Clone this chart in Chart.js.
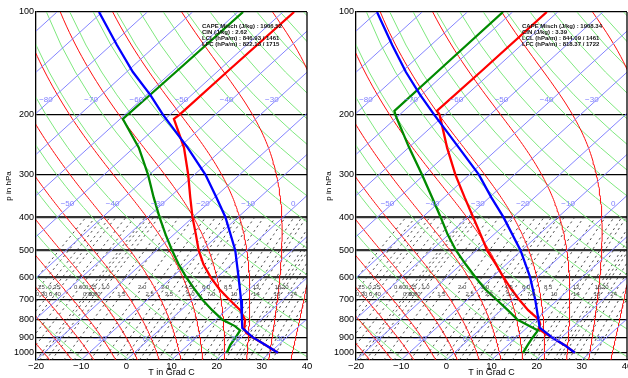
<!DOCTYPE html>
<html>
<head>
<meta charset="utf-8">
<script src="https://cdn.jsdelivr.net/npm/chart.js@4.4.1/dist/chart.umd.min.js"></script>
<style>
  html, body { margin: 0; padding: 0; background: #fff; }
  body { width: 628px; height: 378px; overflow: hidden; position: relative; }
  .panel { position: absolute; top: 0; width: 320px; height: 378px; }
</style>
</head>
<body>
<div class="panel" style="left:0"><canvas id="skewLinks" width="320" height="378"></canvas></div>
<div class="panel" style="left:320px"><canvas id="skewRechts" width="320" height="378"></canvas></div>
<script>
document.addEventListener("DOMContentLoaded", function () {

    const SKEW = 36;        // Grad C pro ln(p)-Einheit
    const P_UNTEN = 1050;
    const P_OBEN = 100;

    const druckTicks = [100, 200, 300, 400, 500, 600, 700, 800, 900, 1000];
    const tempTicks = [-20, -10, 0, 10, 20, 30, 40];

    // Hintergrund-Linien
    const isothermen = [-110, -100, -90, -80, -70, -60, -50, -40, -30, -20, -10, 0, 10, 20, 30, 40];
    const isoLabelOben = [-80, -70, -60, -50, -40, -30];     // bei 190 hPa
    const isoLabelMitte = [-50, -40, -30, -20, -10, 0];      // bei 383 hPa
    const isoLabelUnten = [-20, -10, 0, 10, 20, 30];         // bei 953 hPa
    const trockenAdiabaten = [250, 260, 270, 280, 290, 300, 310, 320, 330, 340, 350, 360, 370, 380, 390, 400, 410, 420, 430, 440, 450, 460];
    const feuchtAdiabaten = [-30, -25, -20, -15, -10, -5, 0, 5, 10, 15, 20, 25, 30, 35, 40];
    const mischLinien = [0.2, 0.25, 0.3, 0.35, 0.4, 0.5, 0.6, 0.75, 0.8, 0.9, 1, 1.25, 1.5, 2, 2.5, 3, 3.5, 4, 4.5, 5, 6, 7, 8.5, 10, 11.5, 13, 14, 16, 18, 19, 20, 22, 24, 27, 30];
    const mischReihe1 = [0.25, 0.35, 0.6, 0.75, 1, 2, 3, 4.5, 6, 8.5, 13, 18, 20];   // Beschriftung bei 644 hPa
    const mischReihe2 = [0.3, 0.4, 0.8, 0.9, 1.5, 2.5, 3.5, 5, 7, 10, 14, 19, 24];   // Beschriftung bei 675 hPa

    // linke Sondierung
    const linksTempP = [100, 150, 200, 206, 250, 300, 350, 400, 450, 500, 550, 600, 650, 700, 750, 800, 850, 875, 900, 950, 1000];
    const linksTemp = [-47.5, -47.8, -47.9, -48.1, -38.9, -31.4, -25.4, -20.1, -15.1, -10.7, -6.2, -1.5, 3.3, 8.3, 13.1, 16.5, 18.5, 20.0, 22.4, 27.3, 31.8];
    const linksTaupP = [100, 150, 206, 250, 300, 350, 400, 450, 500, 550, 600, 650, 700, 750, 800, 835, 860, 900, 950, 1000];
    const linksTaup = [-58.8, -59.1, -59.4, -48.9, -40.3, -33.5, -27.4, -21.8, -16.6, -11.7, -6.9, -2.2, 2.3, 6.9, 11.5, 15.8, 18.0, 18.7, 19.4, 20.5];
    const linksPaketP = [100, 125, 150, 175, 200, 250, 300, 350, 400, 500, 600, 700, 800, 846, 900, 950, 1000];
    const linksPaket = [-90.7, -78.7, -68.6, -59.2, -51.6, -38.1, -27.6, -19.6, -12.8, -2.6, 4.7, 10.8, 15.8, 17.9, 22.4, 27.3, 31.8];
    const linksInfo = ["CAPE Misch (J/kg) : 1906.52", "CIN (J/kg) : 2.62", "LCL (hPa/m) : 846.93 / 1461", "LFC (hPa/m) : 822.13 / 1715"];

    // rechte Sondierung
    const rechtsTempP = [100, 150, 195, 200, 250, 300, 350, 400, 450, 500, 550, 600, 650, 700, 750, 800, 825, 850, 875, 900, 950, 1000];
    const rechtsTemp = [-62.4, -62.5, -62.7, -61.2, -51.5, -43.1, -35.5, -28.8, -22.9, -17.7, -12.3, -7.5, -2.9, 1.6, 6.0, 10.7, 12.1, 12.8, 15.2, 17.8, 22.6, 26.7];
    const rechtsTaupP = [100, 150, 195, 200, 250, 300, 350, 400, 450, 500, 550, 600, 650, 700, 750, 800, 836, 860, 900, 950, 1000];
    const rechtsTaup = [-72.1, -72.1, -72.1, -71.0, -59.9, -50.5, -42.7, -36.0, -30.2, -24.6, -19.0, -13.7, -8.7, -3.4, 1.5, 6.0, 10.3, 13.1, 13.6, 14.4, 15.2];
    const rechtsPaketP = [100, 125, 150, 175, 200, 250, 300, 350, 400, 500, 600, 700, 800, 844, 900, 950, 1000];
    const rechtsPaket = [-100.0, -88.6, -79.0, -70.3, -62.4, -48.9, -37.9, -29.6, -22.1, -10.3, -1.6, 5.1, 10.6, 12.8, 17.8, 22.6, 26.7];
    const rechtsInfo = ["CAPE Misch (J/kg) : 1908.34", "CIN (J/kg) : 3.39", "LCL (hPa/m) : 844.09 / 1461", "LFC (hPa/m) : 818.37 / 1722"];

    Chart.defaults.font.family = "'Liberation Sans', Arial, sans-serif";

    function skewX(t, p) {
        return t + SKEW * Math.log(P_UNTEN / p);
    }

    function esat(tc) {
        return 6.112 * Math.exp(17.67 * tc / (tc + 243.5));
    }

    // pseudoadiabatischer Gradient dT/dp
    function feuchtGradient(tk, p) {
        const es = esat(tk - 273.15);
        const rs = 0.622 * es / (p - es);
        const zaehler = 287.04 * tk + 2.501e6 * rs;
        const nenner = 1005.7 + (2.501e6 * 2.501e6 * rs * 0.622) / (287.04 * tk * tk);
        return zaehler / nenner / p;
    }

    function feuchtKurve(thw) {
        function lauf(pEnde, h) {
            const pts = [];
            let tk = thw + 273.15;
            let p = 1000;
            pts.push({ x: skewX(tk - 273.15, p), y: p });
            while ((h < 0 && p > pEnde) || (h > 0 && p < pEnde)) {
                const k1 = feuchtGradient(tk, p);
                const k2 = feuchtGradient(tk + h / 2 * k1, p + h / 2);
                const k3 = feuchtGradient(tk + h / 2 * k2, p + h / 2);
                const k4 = feuchtGradient(tk + h * k3, p + h);
                tk += h / 6 * (k1 + 2 * k2 + 2 * k3 + k4);
                p += h;
                pts.push({ x: skewX(tk - 273.15, p), y: p });
            }
            return pts;
        }
        const unten = lauf(P_UNTEN, 5).reverse();
        const oben = lauf(P_OBEN, -5);
        return unten.concat(oben.slice(1));
    }

    function trockenKurve(theta) {
        const pts = [];
        for (let p = P_UNTEN; p >= P_OBEN; p -= 25) {
            const t = theta * Math.pow(p / 1000, 0.286) - 273.15;
            pts.push({ x: skewX(t, p), y: p });
        }
        return pts;
    }

    function taupunktAusMisch(w, p) {
        const e = w * p / (622 + w);
        const l = Math.log(e / 6.112);
        return 243.5 * l / (17.67 - l);
    }

    function mischKurve(w) {
        const pts = [];
        for (let p = P_UNTEN; p >= 400; p -= 50) {
            pts.push({ x: skewX(taupunktAusMisch(w, p), p), y: p });
        }
        return pts;
    }

    function profil(ps, ts) {
        return ps.map(function (p, i) { return { x: skewX(ts[i], p), y: p }; });
    }

    function linie(pts, farbe, breite, strich) {
        return {
            data: pts,
            showLine: true,
            borderColor: farbe,
            borderWidth: breite,
            borderDash: strich || [],
            pointRadius: 0,
            fill: false,
            tension: 0
        };
    }

    function mischText(w) {
        if (w >= 10) return String(w);
        if (w < 1) return w.toFixed(2);
        return w.toFixed(1);
    }

    const textPlugin = {
        id: "skewTexte",
        afterDatasetsDraw: function (chart) {
            const c = chart.ctx;
            const xs = chart.scales.x;
            const ys = chart.scales.y;
            const a = chart.chartArea;
            c.save();

            c.strokeStyle = "#000";
            c.lineWidth = 1.3;
            c.beginPath();
            c.moveTo(a.right, a.top);
            c.lineTo(a.right, a.bottom);
            c.stroke();

            c.beginPath();
            c.rect(a.left, a.top, a.right - a.left, a.bottom - a.top);
            c.clip();

            // Isothermen-Beschriftung
            c.fillStyle = "#8080ff";
            c.font = "8px 'Liberation Sans', Arial, sans-serif";
            c.textAlign = "center";
            c.textBaseline = "middle";
            [[isoLabelOben, 190], [isoLabelMitte, 383], [isoLabelUnten, 953]].forEach(function (r) {
                r[0].forEach(function (t) {
                    const x = xs.getPixelForValue(skewX(t, r[1])) + 3;
                    const y = ys.getPixelForValue(r[1]) - 7;
                    c.fillText(t < 0 ? "\u2212" + Math.abs(t) : String(t), x, y);
                });
            });

            // Mischungsverhaeltnis-Beschriftung
            c.fillStyle = "#444";
            c.font = "6px 'Liberation Sans', Arial, sans-serif";
            [[mischReihe1, 644], [mischReihe2, 675]].forEach(function (r) {
                r[0].forEach(function (w) {
                    const x = xs.getPixelForValue(skewX(taupunktAusMisch(w, r[1]), r[1]));
                    const y = ys.getPixelForValue(r[1]);
                    c.fillText(mischText(w), x, y);
                });
            });

            // Kennwerte
            c.fillStyle = "#111";
            c.font = "bold 6px 'Liberation Sans', Arial, sans-serif";
            c.textAlign = "left";
            chart.options.plugins.skewTexte.zeilen.forEach(function (z, i) {
                c.fillText(z, a.left + 166, a.top + 14 + i * 6);
            });
            c.restore();
        }
    };

    function baueChart(id, temp, taup, paket, info) {
        const ds = [];
        ds.push(linie(paket, "#0000ff", 2.3));
        ds.push(linie(taup, "#008a00", 2.3));
        ds.push(linie(temp, "#ff0000", 2.3));
        isothermen.forEach(function (t) {
            ds.push(linie([{ x: skewX(t, P_UNTEN), y: P_UNTEN }, { x: skewX(t, P_OBEN), y: P_OBEN }], "#8484ff", 1));
        });
        feuchtAdiabaten.forEach(function (t) { ds.push(linie(feuchtKurve(t), "#ff0f0f", 1)); });
        trockenAdiabaten.forEach(function (th) { ds.push(linie(trockenKurve(th), "#7ee87e", 1)); });
        mischLinien.forEach(function (w) {
            ds.push(linie(mischKurve(w), "#333", 0.9, [2.2, 3.3]));
        });

        return new Chart(document.getElementById(id), {
            type: "scatter",
            data: { datasets: ds },
            plugins: [textPlugin],
            options: {
                responsive: false,
                animation: false,
                events: [],
                layout: { padding: { left: 0, right: 13, top: 12, bottom: 0 } },
                plugins: {
                    legend: { display: false },
                    tooltip: { enabled: false },
                    skewTexte: { zeilen: info }
                },
                scales: {
                    x: {
                        type: "linear",
                        min: -20,
                        max: 40,
                        afterBuildTicks: function (s) { s.ticks = tempTicks.map(function (v) { return { value: v }; }); },
                        afterFit: function (s) { s.height = 18; },
                        ticks: {
                            color: "#000",
                            font: { size: 9.5 },
                            padding: 1,
                            callback: function (v) { return v < 0 ? "\u2212" + Math.abs(v) : String(v); }
                        },
                        grid: { display: false, drawTicks: false },
                        border: { display: true, color: "#000", width: 1.3 },
                        title: { display: true, text: "T in Grad C", color: "#000", font: { size: 9 }, padding: 0 }
                    },
                    y: {
                        type: "logarithmic",
                        reverse: true,
                        min: P_OBEN,
                        max: P_UNTEN,
                        afterBuildTicks: function (s) { s.ticks = druckTicks.map(function (v) { return { value: v }; }); },
                        afterFit: function (s) { s.width = 36; },
                        ticks: {
                            color: "#000",
                            font: { size: 9 },
                            padding: 2,
                            callback: function (v) { return String(v); }
                        },
                        grid: {
                            drawTicks: false,
                            color: function (c) { return (c.tick && c.tick.value >= 400 && c.tick.value <= 600) ? "#333" : "#000"; },
                            lineWidth: function (c) { return (c.tick && c.tick.value >= 400 && c.tick.value <= 600) ? 2.3 : 1.3; }
                        },
                        border: { display: true, color: "#000", width: 1.3 },
                        title: { display: true, text: "p in hPa", color: "#000", font: { size: 8 }, padding: { top: 4, bottom: 0 } }
                    }
                }
            }
        });
    }

    baueChart("skewLinks",
        profil(linksTempP, linksTemp), profil(linksTaupP, linksTaup), profil(linksPaketP, linksPaket), linksInfo);
    baueChart("skewRechts",
        profil(rechtsTempP, rechtsTemp), profil(rechtsTaupP, rechtsTaup), profil(rechtsPaketP, rechtsPaket), rechtsInfo);
});
</script>
</body>
</html>
